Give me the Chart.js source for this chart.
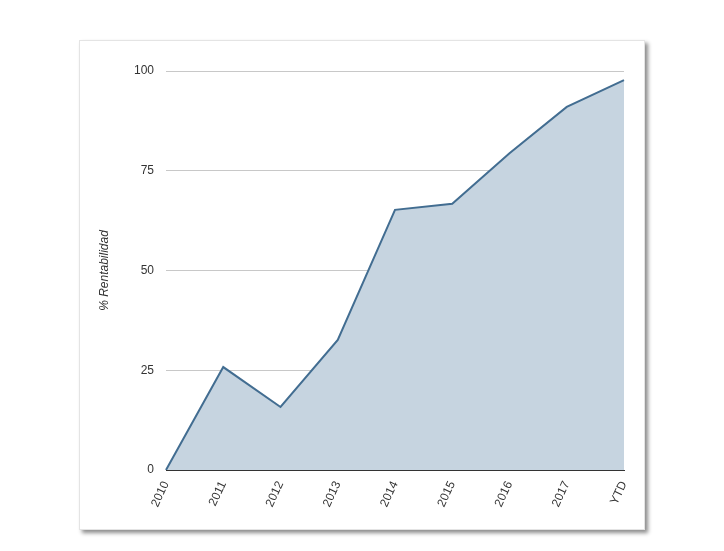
<!DOCTYPE html>
<html>
<head>
<meta charset="utf-8">
<script src="https://cdn.jsdelivr.net/npm/chart.js@4/dist/chart.umd.min.js"></script>
<style>
  html, body { margin: 0; padding: 0; background: #ffffff; }
  #card { position: absolute; left: 79px; top: 40px; width: 564px; height: 488px;
          background: #fff; border: 1px solid #e4e4e4;
          box-shadow: 3px 3px 4px rgba(0,0,0,0.45); }
  #wrap { position: absolute; left: 0; top: 0; width: 724px; height: 551px; }
</style>
</head>
<body>
<div id="card"></div>
<div id="wrap"><canvas id="c" width="724" height="551"></canvas></div>
<script>
const categories = ["2010", "2011", "2012", "2013", "2014", "2015", "2016", "2017", "YTD"];
const rentabilidad = [0, 25.8, 15.8, 32.6, 65.2, 66.7, 79.4, 91.0, 97.7];
const yTicks = [0, 25, 50, 75, 100];
const yTitle = "% Rentabilidad";

const font = { family: "'Liberation Sans', Arial, sans-serif", size: 12 };

new Chart(document.getElementById('c'), {
  type: 'line',
  data: {
    labels: categories,
    datasets: [{
      data: rentabilidad,
      borderColor: '#426d91',
      backgroundColor: '#c6d4e0',
      borderWidth: 2,
      fill: 'origin',
      tension: 0,
      pointRadius: 0,
      pointHoverRadius: 0
    }]
  },
  options: {
    responsive: false,
    animation: false,
    devicePixelRatio: 1,
    layout: { padding: { left: 97, right: 100, top: 71, bottom: 0 } },
    plugins: { legend: { display: false }, tooltip: { enabled: false } },
    scales: {
      x: {
        offset: false,
        grid: { display: false, drawTicks: false },
        border: { display: true, color: '#333333', width: 1 },
        ticks: { color: '#333333', font: font, minRotation: 65, maxRotation: 65, padding: 9, autoSkip: false },
        afterFit: (s) => { s.height = 81; }
      },
      y: {
        min: 0, max: 100,
        afterBuildTicks: (s) => { s.ticks = yTicks.map(v => ({ value: v })); },
        grid: { color: '#c8c8c8', drawTicks: false },
        border: { display: false },
        ticks: { color: '#333333', font: font, padding: 12 },
        title: { display: true, text: yTitle, color: '#333333',
                 font: { family: font.family, size: 12, style: 'italic' }, padding: 0 },
        afterFit: (s) => { s.width = 69; }
      }
    }
  }
});
</script>
</body>
</html>
